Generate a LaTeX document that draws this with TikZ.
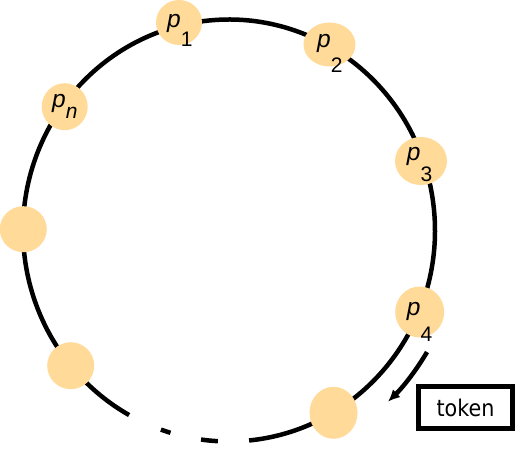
\documentclass[tikz,border=0pt]{standalone}
\usepackage{fontspec}
\setmainfont{Liberation Sans}
\newfontfamily\tokfont[FakeStretch=0.9]{DejaVu Sans}
\usetikzlibrary{arrows.meta,shapes.geometric}
\definecolor{procfill}{RGB}{255,218,153}
\newcommand{\plab}[2]{\textit{p}\raisebox{-#2pt}{\fontsize{21}{21}\selectfont #1}}
\begin{document}
\begin{tikzpicture}[x=1pt,y=1pt,
  ring/.style={line width=4.5pt},
  proc/.style={ellipse, fill=procfill, draw=none, inner sep=0pt},
  lab/.style={inner sep=0pt, anchor=base west, font=\fontsize{24.5}{24.5}\selectfont},
  tokbox/.style={draw=black, line width=5pt, minimum width=94pt, minimum height=42pt, inner sep=0pt, font=\tokfont\fontsize{23}{23}\selectfont},
  tokarrow/.style={line width=4.5pt, -{Latex[length=12pt,width=11pt]}}]
\useasboundingbox (0,0) rectangle (520,463);
\coordinate (C) at (229,232.5);
% ring with gap at the bottom
\draw[ring] ([shift={(275.6:206 and 211)}]C) arc[start angle=275.6, end angle=601, x radius=206, y radius=211];
\draw[ring] ([shift={(250.7:206 and 211)}]C) arc[start angle=250.7, end angle=253.5, x radius=206, y radius=211];
\draw[ring] ([shift={(262.2:206 and 211)}]C) arc[start angle=262.2, end angle=266.9, x radius=206, y radius=211];
% processes
\node[proc, minimum width=46pt, minimum height=45pt] (p1) at (179,440.5) {};
\node[proc, minimum width=52pt, minimum height=44pt] (p2) at (329.5,418.5) {};
\node[proc, minimum width=52pt, minimum height=48pt] (p3) at (421,302) {};
\node[proc, minimum width=49pt, minimum height=51pt] (p4) at (419.7,151) {};
\node[proc, minimum width=48pt, minimum height=52pt] (pb) at (333.5,50.2) {};
\node[proc, minimum width=47pt, minimum height=47pt] (pll) at (70.7,97.3) {};
\node[proc, minimum width=47pt, minimum height=46pt] (pl) at (23.3,233.8) {};
\node[proc, minimum width=46pt, minimum height=47pt] (pn) at (64.7,356.3) {};
% labels
\node[lab] (l1) at (167,435) {\plab{1}{19}};
\node[lab] (l2) at (317,415) {\plab{2}{25}};
\node[lab] (l3) at (406.7,302) {\plab{3}{20.5}};
\node[lab] (l4) at (406.7,147) {\plab{4}{25.5}};
\node[lab] (ln) at (52,355) {\plab{\textit{n}}{11}};
% token
\node[tokbox] (tok) at (465.5,55.5) {token};
\coordinate (as) at ([shift={(-31:231 and 236)}]C);
\draw[tokarrow] (as) arc[start angle=-31, end angle=-46.5, x radius=231, y radius=236];
\end{tikzpicture}
\end{document}
